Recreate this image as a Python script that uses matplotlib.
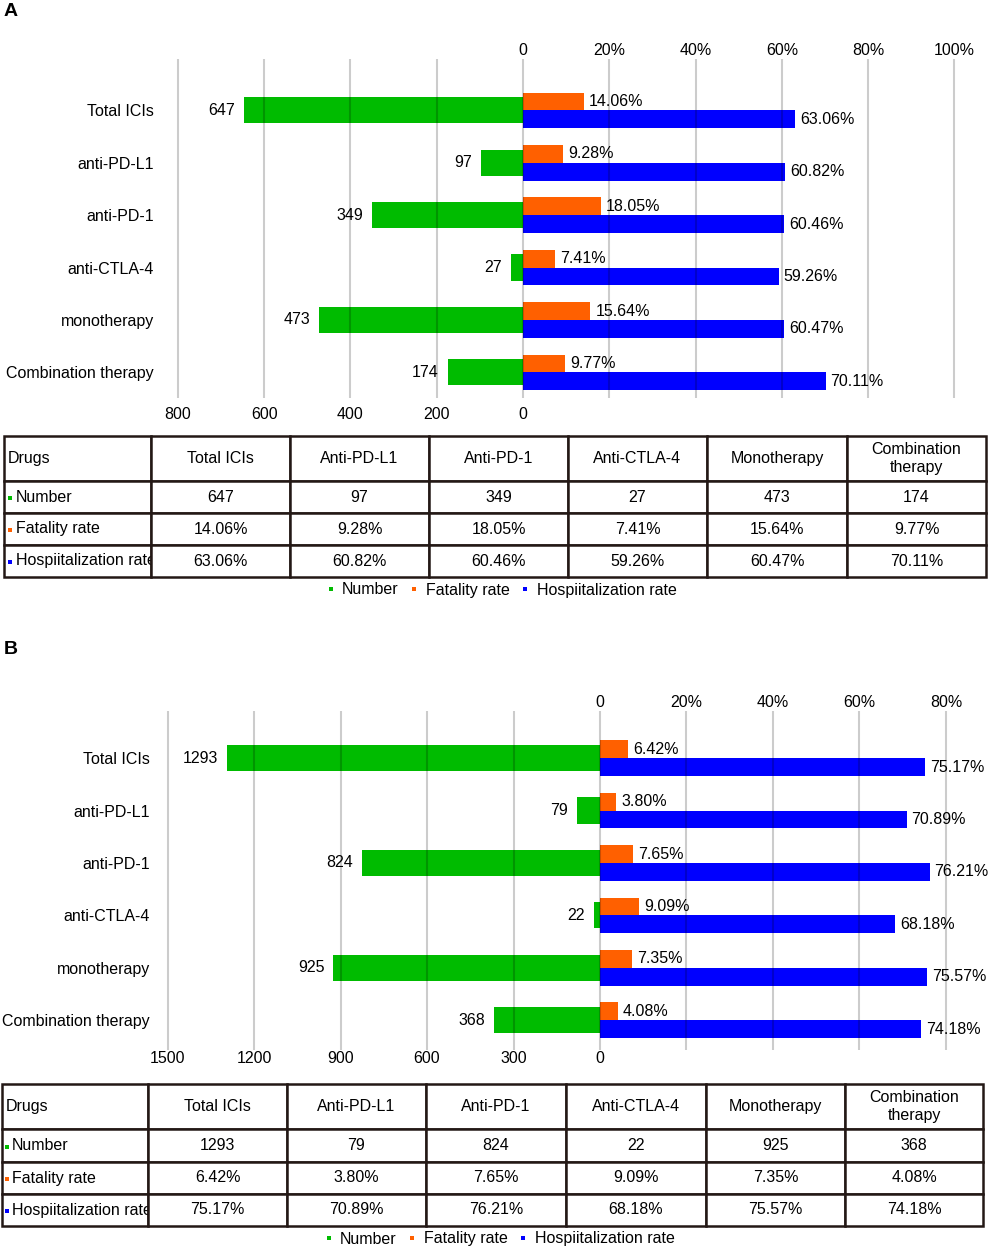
import numpy as np
import matplotlib.pyplot as plt
from matplotlib.lines import Line2D

plt.rcParams['font.family'] = ['Liberation Sans', 'DejaVu Sans']
plt.rcParams['font.size'] = 11.5

# Data
CATEGORIES = ['Total ICIs', 'anti-PD-L1', 'anti-PD-1', 'anti-CTLA-4',
              'monotherapy', 'Combination therapy']
TABLE_HEADERS = ['Drugs', 'Total ICIs', 'Anti-PD-L1', 'Anti-PD-1', 'Anti-CTLA-4',
                 'Monotherapy', 'Combination\ntherapy']
SERIES = ['Number', 'Fatality rate', 'Hospiitalization rate']

A_NUMBER = [647, 97, 349, 27, 473, 174]
A_FATALITY = [14.06, 9.28, 18.05, 7.41, 15.64, 9.77]
A_HOSP = [63.06, 60.82, 60.46, 59.26, 60.47, 70.11]
A_COUNT_TICKS = [800, 600, 400, 200, 0]
A_PCT_TICKS = [0, 20, 40, 60, 80, 100]

B_NUMBER = [1293, 79, 824, 22, 925, 368]
B_FATALITY = [6.42, 3.80, 7.65, 9.09, 7.35, 4.08]
B_HOSP = [75.17, 70.89, 76.21, 68.18, 75.57, 74.18]
B_COUNT_TICKS = [1500, 1200, 900, 600, 300, 0]
B_PCT_TICKS = [0, 20, 40, 60, 80]

# Style
GREEN = '#00BB00'
ORANGE = '#FF6000'
BLUE = '#0000FF'
COLORS = [GREEN, ORANGE, BLUE]
BORDER = '#231815'
FS = 11.5

W, H = 989, 1249
fig = plt.figure(figsize=(W / 100, H / 100), dpi=100)


def box(x0, y0, x1, y1):
    # pixel box (top-left origin) -> figure fraction
    return [x0 / W, 1 - y1 / H, (x1 - x0) / W, (y1 - y0) / H]


def draw_panel(number, fatality, hosp, count_ticks, pct_ticks, per_pct,
               pct_lim, chart_px, ylim, bottom_pad, ylab_pad,
               col_edges, row_edges, sq_dx, pads, legend_xy):
    ax = fig.add_axes(box(*chart_px))
    ax2 = ax.twiny()
    y = np.arange(len(CATEGORIES))

    ax.set_xlim(-pct_lim[0] * per_pct, -pct_lim[1] * per_pct)
    ax2.set_xlim(*pct_lim)

    green = ax.barh(y, number, height=0.5, color=GREEN, zorder=1)
    orange = ax2.barh(y - 0.17, fatality, height=0.34, color=ORANGE, zorder=1)
    blue = ax2.barh(y + 0.17, hosp, height=0.34, color=BLUE, zorder=1)
    ax.set_ylim(*ylim)

    ax.bar_label(green, labels=[str(v) for v in number], padding=6.5, fontsize=FS)
    ax2.bar_label(orange, labels=[f'{v:.2f}%' for v in fatality], padding=3.6, fontsize=FS)
    ax2.bar_label(blue, labels=[f'{v:.2f}%' for v in hosp], padding=3.6, fontsize=FS)

    # grid on the top axis, drawn over the bars
    grid_ticks = sorted(set([-c / per_pct for c in count_ticks] + list(pct_ticks)))
    ax2.set_xticks(grid_ticks)
    ax2.set_xticklabels(['' if t < 0 else ('0' if t == 0 else f'{int(t)}%')
                         for t in grid_ticks])
    ax2.grid(axis='x', color='black', alpha=0.2, linewidth=1.5)
    ax2.set_axisbelow(False)
    ax2.tick_params(axis='x', length=0, pad=0.5, labelsize=FS)

    ax.set_xticks(count_ticks)
    ax.set_xticklabels([str(c) for c in count_ticks])
    ax.tick_params(axis='x', length=0, pad=bottom_pad, labelsize=FS)
    ax.set_yticks(y)
    ax.set_yticklabels(CATEGORIES)
    ax.tick_params(axis='y', length=0, pad=ylab_pad, labelsize=FS)
    ax.grid(False)
    for a in (ax, ax2):
        for s in a.spines.values():
            s.set_visible(False)

    # table
    tax = fig.add_axes(box(col_edges[0], row_edges[0], col_edges[-1], row_edges[-1]))
    tax.set_xlim(0, 1)
    tax.set_ylim(0, 1)
    tax.axis('off')
    rows = [TABLE_HEADERS,
            [SERIES[0]] + [str(v) for v in number],
            [SERIES[1]] + [f'{v:.2f}%' for v in fatality],
            [SERIES[2]] + [f'{v:.2f}%' for v in hosp]]
    widths = np.diff(col_edges)
    heights = np.diff(row_edges)
    tbl = tax.table(cellText=rows, colWidths=list(widths / widths.sum()),
                    cellLoc='center', bbox=[0, 0, 1, 1])
    tbl.auto_set_font_size(False)
    tbl.set_fontsize(FS)
    for (r, c), cell in tbl.get_celld().items():
        cell.set_height(heights[r])
        cell.set_edgecolor(BORDER)
        cell.set_linewidth(1.8)
        cell.get_text().set_linespacing(1.3)
        if c == 0:
            cell._loc = 'left'
            cell.get_text().set_horizontalalignment('left')
            cell.PAD = pads[0] if r == 0 else pads[1]

    total_w = col_edges[-1] - col_edges[0]
    total_h = row_edges[-1] - row_edges[0]
    for i, col in enumerate(COLORS):
        yc = ((row_edges[i + 1] + row_edges[i + 2]) / 2 + 1 - row_edges[0]) / total_h
        tax.plot([sq_dx / total_w], [1 - yc], marker='s', markersize=3,
                 markeredgewidth=0, color=col, linestyle='none', clip_on=False)

    handles = [Line2D([], [], marker='s', linestyle='none', markersize=3,
                      markeredgewidth=0, color=c, label=l)
               for c, l in zip(COLORS, SERIES)]
    fig.legend(handles=handles, loc='center',
               bbox_to_anchor=(legend_xy[0] / W, 1 - legend_xy[1] / H),
               ncol=3, frameon=False, handlelength=0.4, handletextpad=0.5,
               columnspacing=0.8, fontsize=FS, borderpad=0, borderaxespad=0)


draw_panel(A_NUMBER, A_FATALITY, A_HOSP, A_COUNT_TICKS, A_PCT_TICKS, 10,
           (-81, 101), (173.5, 59, 958.8, 398), (5.49, -0.98), 6.5, 14,
           [4, 151, 290, 429, 568, 707, 847, 986], [436, 481, 513, 545, 577],
           5.5, (0.027, 0.082), (502, 590))

draw_panel(B_NUMBER, B_FATALITY, B_HOSP, B_COUNT_TICKS, B_PCT_TICKS, 15,
           (-101, 81), (163.2, 711, 950.3, 1050), (5.57, -0.9), 0.5, 9.5,
           [2, 148, 287, 426, 566, 706, 845, 983], [1084, 1129, 1162, 1194, 1226],
           5, (0.027, 0.068), (500, 1239))

fig.text(4 / W, 1 - 12 / H, 'A', fontsize=14, fontweight='bold', va='center', ha='left')
fig.text(4 / W, 1 - 649 / H, 'B', fontsize=14, fontweight='bold', va='center', ha='left')

fig.savefig('out.png', dpi=100)
